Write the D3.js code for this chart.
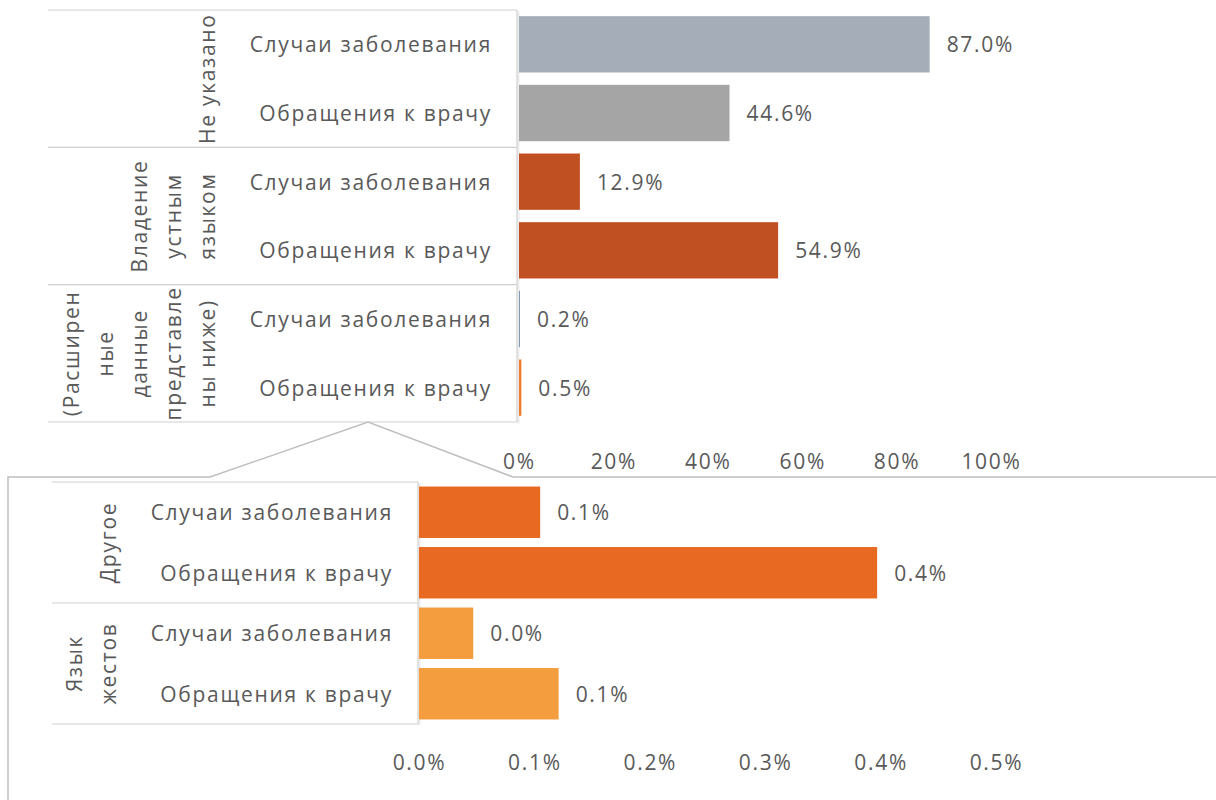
<!DOCTYPE html>
<html><head><meta charset="utf-8">
<script src="https://cdn.jsdelivr.net/npm/d3@7"></script>
<style>
body{margin:0;background:#fff;}
svg{display:block;}
text{font-family:"Open Sans","Noto Sans",sans-serif;fill:#595959;}
</style></head>
<body>
<svg id="c" width="1216" height="800"></svg>
<script>
// ---- data ----
const seriesNames = ["Случаи заболевания", "Обращения к врачу"];
const topGroups = [["Не указано"], ["Владение", "устным", "языком"], ["(Расширен", "ные", "данные", "представле", "ны ниже)"]];
const topValues = [87.0, 44.6, 12.9, 54.9, 0.2, 0.5];
const topColors = ["#A5ADB8", "#A5A5A5", "#C04F22", "#C04F22", "#8497B0", "#ED7D31"];
const topTicks = [0, 20, 40, 60, 80, 100];

const botGroups = [["Другое"], ["Язык", "жестов"]];
const botValues = [0.105, 0.397, 0.047, 0.121];
const botColors = ["#E86A22", "#E86A22", "#F49D3F", "#F49D3F"];
const botTicks = [0, 0.1, 0.2, 0.3, 0.4, 0.5];

const svg = d3.select("#c");
const FS = 21, LS = 1.7;
const lineCol = "#d0d0d0";

function styleText(sel) {
  return sel.style("font-size", FS + "px").style("letter-spacing", LS + "px");
}

function panel(cfg) {
  const {groups, values, colors, ticks, xRange, yRange, domain, boxLeft, boxRight, axisY, tickFmt, valFmt, pad} = cfg;
  const rows = [];
  groups.forEach((g, gi) => seriesNames.forEach((s, si) => rows.push({id: gi + "_" + si, g: gi, name: s, v: values[gi * 2 + si], c: colors[gi * 2 + si]})));
  const x = d3.scaleLinear().domain(domain).range(xRange);
  const y = d3.scaleBand().domain(rows.map(r => r.id)).range(yRange).paddingInner(pad).paddingOuter(pad / 2);
  const gRoot = svg.append("g");
  // label panel shadow + right border
  gRoot.append("line").attr("x1", boxRight + 1.5).attr("x2", boxRight + 1.5).attr("y1", yRange[0] + 1).attr("y2", yRange[1] + 1.5)
    .attr("stroke", "#ececec").attr("stroke-width", 2);
  gRoot.append("line").attr("x1", boxRight).attr("x2", boxRight).attr("y1", yRange[0]).attr("y2", yRange[1])
    .attr("stroke", lineCol).attr("stroke-width", 1.2);
  // group separators
  const gb = groups.map((g, gi) => y(gi + "_0") - y.step() * pad / 2);
  gb.push(yRange[1]);
  gRoot.selectAll("line.sep").data(gb).join("line").attr("class", "sep")
    .attr("x1", boxLeft).attr("x2", boxRight).attr("y1", d => d).attr("y2", d => d)
    .attr("stroke", lineCol).attr("stroke-width", 1.2);
  // bars
  gRoot.selectAll("rect.bar").data(rows).join("rect").attr("class", "bar")
    .attr("x", x(0)).attr("y", r => y(r.id)).attr("height", y.bandwidth())
    .attr("width", r => Math.max(1, x(r.v) - x(0))).attr("fill", r => r.c);
  // value labels
  styleText(gRoot.selectAll("text.val").data(rows).join("text").attr("class", "val")
    .attr("x", r => x(r.v) + 17).attr("y", r => y(r.id) + y.bandwidth() / 2)
    .attr("dominant-baseline", "central"))
    .text(r => valFmt(r.v));
  // category labels
  styleText(gRoot.selectAll("text.cat").data(rows).join("text").attr("class", "cat")
    .attr("x", boxRight - 25).attr("y", r => y(r.id) + y.bandwidth() / 2)
    .attr("text-anchor", "end").attr("dominant-baseline", "central"))
    .text(r => r.name);
  // group labels (rotated)
  groups.forEach((lines, gi) => {
    const cy = (gb[gi] + gb[gi + 1]) / 2;
    lines.forEach((ln, li) => {
      const cx = boxRight - 310 - (lines.length - 1 - li) * 34;
      styleText(gRoot.append("text").attr("transform", `translate(${cx},${cy}) rotate(-90)`)
        .attr("text-anchor", "middle").attr("dominant-baseline", "central")).text(ln);
    });
  });
  // axis
  const ax = d3.axisBottom(x).tickValues(ticks).tickSize(0).tickPadding(0).tickFormat(tickFmt);
  const axg = gRoot.append("g").attr("transform", `translate(0,${axisY})`).call(ax);
  axg.select(".domain").remove();
  axg.attr("font-family", null).attr("font-size", null);
  styleText(axg.selectAll("text").attr("dy", null).attr("y", 0).attr("dominant-baseline", "central").attr("fill", null));
}

panel({groups: topGroups, values: topValues, colors: topColors, ticks: topTicks,
  xRange: [519, 991], yRange: [10, 422], domain: [0, 100], boxLeft: 48, boxRight: 517, axisY: 461,
  tickFmt: v => d3.format("d")(v) + "%", valFmt: v => d3.format(".1f")(v) + "%", pad: 0.18});

// callout / zoom frame
svg.append("polyline")
  .attr("points", [[8, 800], [8, 477], [210, 477], [368, 422], [513, 477], [1216, 477]].map(p => p.join(",")).join(" "))
  .attr("fill", "none").attr("stroke", "#bfbfbf").attr("stroke-width", 1.5);

panel({groups: botGroups, values: botValues, colors: botColors, ticks: botTicks,
  xRange: [419, 996], yRange: [482, 724], domain: [0, 0.5], boxLeft: 52, boxRight: 418, axisY: 762,
  tickFmt: v => d3.format(".1f")(v) + "%", valFmt: v => d3.format(".1f")(v) + "%", pad: 0.15});
</script>
</body></html>
